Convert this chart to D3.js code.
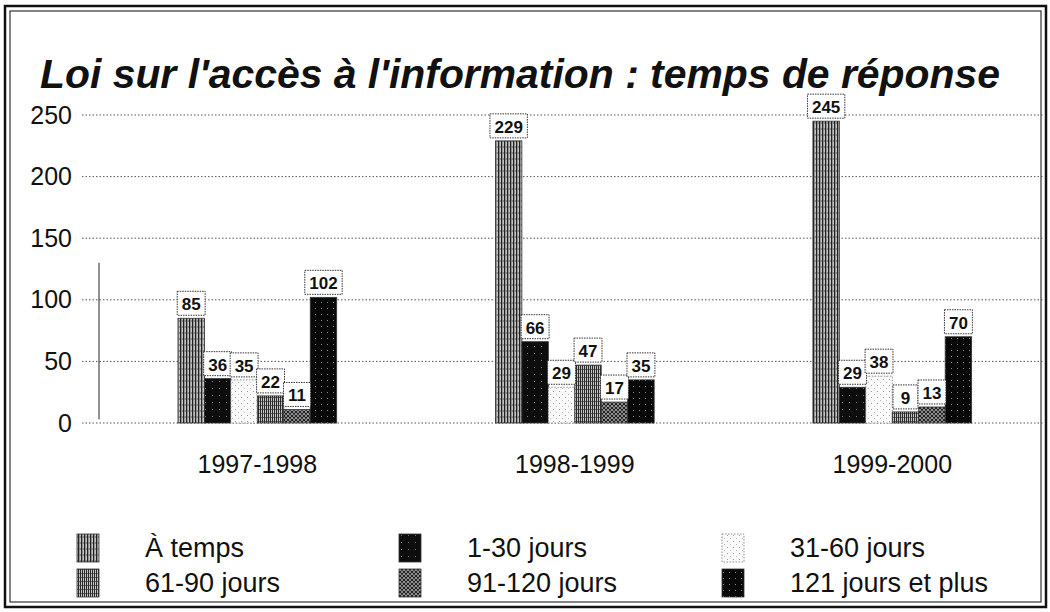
<!DOCTYPE html>
<html><head><meta charset="utf-8">
<script src="https://cdn.jsdelivr.net/npm/d3@7"></script>
<style>
html,body{margin:0;padding:0;background:#fff;}
svg{display:block;}
text{font-family:"Liberation Sans",Arial,sans-serif;fill:#111;}
</style></head>
<body><svg id="c" width="1050" height="612"></svg>
<script>
// ---- data ----
const categories = ["1997-1998", "1998-1999", "1999-2000"];
const seriesNames = ["À temps", "1-30 jours", "31-60 jours", "61-90 jours", "91-120 jours", "121 jours et plus"];
const aTemps   = [85, 229, 245];
const jours1_30   = [36, 66, 29];
const jours31_60  = [35, 29, 38];
const jours61_90  = [22, 47, 9];
const jours91_120 = [11, 17, 13];
const jours121plus = [102, 35, 70];
const yTicks = [0, 50, 100, 150, 200, 250];
const title = "Loi sur l'accès à l'information : temps de réponse";

const seriesValues = [aTemps, jours1_30, jours31_60, jours61_90, jours91_120, jours121plus];
const patternIds = ["pA", "pB", "pC", "pD", "pE", "pF"];

const svg = d3.select("#c");
const W = 1050, H = 612;
svg.append("rect").attr("width", W).attr("height", H).attr("fill", "#fff");

// ---- patterns (scanned halftone look) ----
const defs = svg.append("defs");
function pat(id, w, h, bg, draw) {
  const p = defs.append("pattern").attr("id", id).attr("patternUnits", "userSpaceOnUse")
    .attr("width", w).attr("height", h);
  p.append("rect").attr("width", w).attr("height", h).attr("fill", bg);
  draw(p);
}
pat("pA", 3, 6, "#c4c4c4", p => {
  p.append("rect").attr("x", 0).attr("y", 0).attr("width", 1.3).attr("height", 6).attr("fill", "#222");
  p.append("rect").attr("x", 1.8).attr("y", 2).attr("width", 0.7).attr("height", 2).attr("fill", "#555");
});
pat("pB", 7, 7, "#0d0d0d", p => {
  p.append("rect").attr("x", 2).attr("y", 3).attr("width", 1).attr("height", 1).attr("fill", "#777");
});
pat("pC", 6, 6, "#fafafa", p => {
  p.append("rect").attr("x", 1).attr("y", 1).attr("width", 1).attr("height", 1).attr("fill", "#999");
  p.append("rect").attr("x", 4).attr("y", 4).attr("width", 1).attr("height", 1).attr("fill", "#bbb");
});
pat("pD", 2, 4, "#c4c4c4", p => {
  p.append("rect").attr("x", 0).attr("y", 0).attr("width", 1).attr("height", 4).attr("fill", "#2a2a2a");
  p.append("rect").attr("x", 1).attr("y", 1).attr("width", 1).attr("height", 1).attr("fill", "#666");
});
pat("pE", 4, 4, "#bdbdbd", p => {
  p.append("path").attr("d", "M0,0 L2,2 L4,0 M0,4 L2,2 L4,4").attr("stroke", "#1a1a1a").attr("stroke-width", 1.1).attr("fill", "none");
});
pat("pF", 6, 6, "#080808", p => {
  p.append("rect").attr("x", 3).attr("y", 2).attr("width", 1).attr("height", 1).attr("fill", "#888");
});

// ---- frame ----
svg.append("rect").attr("x", 5).attr("y", 6).attr("width", W - 9).attr("height", 601)
  .attr("fill", "none").attr("stroke", "#111").attr("stroke-width", 2.5);
svg.append("rect").attr("x", 10).attr("y", 11).attr("width", W - 19).attr("height", 591)
  .attr("fill", "none").attr("stroke", "#333").attr("stroke-width", 1.2);

// ---- title ----
svg.append("text").attr("x", 40).attr("y", 88)
  .attr("font-size", 41).attr("font-weight", "bold").attr("font-style", "italic")
  .attr("textLength", 960).attr("lengthAdjust", "spacingAndGlyphs")
  .text(title);

// ---- scales ----
const y = d3.scaleLinear().domain([0, 250]).range([423, 115]);
const x0 = d3.scaleBand().domain(categories).range([98.6, 1051]).paddingInner(0.5).paddingOuter(0.25);
const x1 = d3.scaleBand().domain(seriesNames).range([0, x0.bandwidth()]).padding(0);

// ---- gridlines & y axis ----
const grid = svg.append("g");
grid.selectAll("line").data(yTicks).join("line")
  .attr("x1", 82).attr("x2", 1044)
  .attr("y1", d => y(d)).attr("y2", d => y(d))
  .attr("stroke", "#555").attr("stroke-width", 1).attr("stroke-dasharray", "1.5,2");

const yAxis = d3.axisLeft(y).tickValues(yTicks).tickSize(0).tickPadding(0);
const ya = svg.append("g").attr("transform", "translate(72,0)").call(yAxis);
ya.select(".domain").remove();
ya.selectAll("text").attr("font-size", 25).attr("fill", "#111")
  .attr("font-family", "Liberation Sans, Arial, sans-serif");

// partial vertical axis stroke visible in the scan
svg.append("line").attr("x1", 99).attr("x2", 99).attr("y1", y(130)).attr("y2", y(3))
  .attr("stroke", "#222").attr("stroke-width", 1);

// ---- x axis labels ----
const xAxis = d3.axisBottom(x0).tickSize(0).tickPadding(0);
const xa = svg.append("g").attr("transform", "translate(0,455)").call(xAxis);
xa.select(".domain").remove();
xa.selectAll("text").attr("font-size", 25).attr("fill", "#111")
  .attr("font-family", "Liberation Sans, Arial, sans-serif");

// ---- bars ----
const rows = [];
categories.forEach((c, ci) => {
  seriesNames.forEach((s, si) => {
    rows.push({ cat: c, s: s, si: si, v: seriesValues[si][ci] });
  });
});

const bars = svg.append("g");
bars.selectAll("rect").data(rows).join("rect")
  .attr("x", d => x0(d.cat) + x1(d.s))
  .attr("y", d => y(d.v))
  .attr("width", x1.bandwidth())
  .attr("height", d => y(0) - y(d.v))
  .attr("fill", d => `url(#${patternIds[d.si]})`)
  .attr("stroke", d => d.si === 2 ? "#777" : "#333")
  .attr("stroke-width", 0.8)
  .attr("stroke-dasharray", d => d.si === 2 ? "1.5,1.5" : null);

// ---- value labels in boxes ----
const lab = svg.append("g");
rows.forEach(d => {
  const cx = x0(d.cat) + x1(d.s) + x1.bandwidth() / 2;
  const top = y(d.v);
  const g = lab.append("g");
  const t = g.append("text").attr("x", cx).attr("y", top - 8)
    .attr("text-anchor", "middle").attr("font-size", 17).attr("font-weight", "bold")
    .text(d.v);
  const bw = Math.max(t.node().getComputedTextLength() + 9, 25);
  g.insert("rect", "text").attr("x", cx - bw / 2).attr("y", top - 27)
    .attr("width", bw).attr("height", 24)
    .attr("fill", "#fff").attr("stroke", "#333").attr("stroke-width", 1)
    .attr("stroke-dasharray", "1.5,1");
});

// ---- legend ----
const legCols = [77, 399, 722];
const legTextX = [145, 467, 790];
const legRows = [548, 583];
const leg = svg.append("g");
seriesNames.forEach((s, i) => {
  const col = i % 3, row = Math.floor(i / 3);
  leg.append("rect").attr("x", legCols[col]).attr("y", legRows[row] - 14)
    .attr("width", 22).attr("height", 28)
    .attr("fill", `url(#${patternIds[i]})`)
    .attr("stroke", i === 2 ? "#777" : "#333").attr("stroke-width", 0.8)
    .attr("stroke-dasharray", i === 2 ? "1.5,1.5" : null);
  leg.append("text").attr("x", legTextX[col]).attr("y", legRows[row] + 9)
    .attr("font-size", 27).text(s);
});
</script>
</body></html>
